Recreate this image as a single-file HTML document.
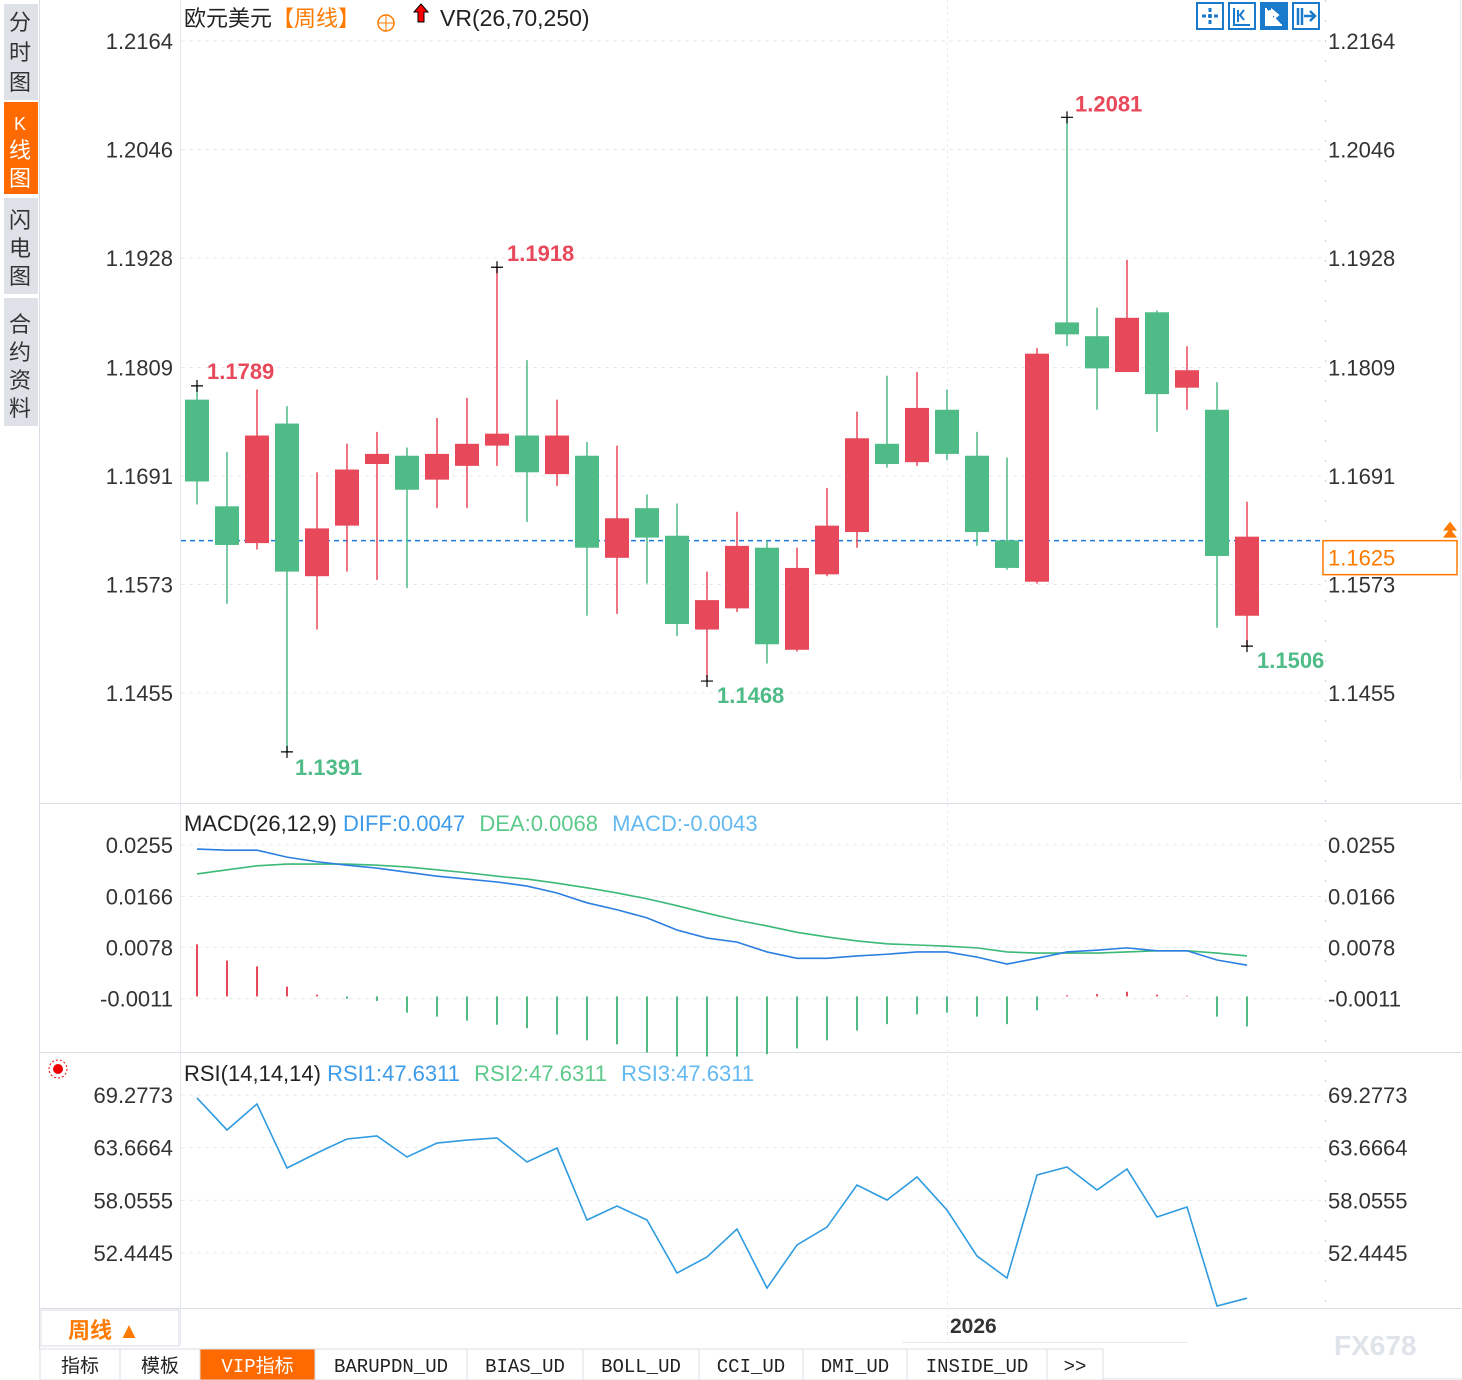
<!DOCTYPE html>
<html><head><meta charset="utf-8">
<style>
body{margin:0;background:#fff;width:1462px;height:1380px;overflow:hidden;font-family:"Liberation Sans","Noto Sans CJK SC",sans-serif;}
svg{position:absolute;left:0;top:0}
</style></head>
<body>
<svg id="chart" width="1462" height="1380" viewBox="0 0 1462 1380">
<g font-family="Liberation Sans, Noto Sans CJK SC, sans-serif" font-size="22" fill="#333" text-anchor="middle">
<rect x="4" y="4" width="34" height="96" fill="#dfe1e8"/>
<text x="20" y="30">分</text><text x="20" y="60">时</text><text x="20" y="90">图</text>
<rect x="4" y="102" width="34" height="92" fill="#ff6a00"/>
<text x="20" y="130" fill="#fff" font-size="18">K</text><text x="20" y="158" fill="#fff">线</text><text x="20" y="186" fill="#fff">图</text>
<rect x="4" y="198" width="34" height="96" fill="#dfe1e8"/>
<text x="20" y="228">闪</text><text x="20" y="256">电</text><text x="20" y="284">图</text>
<rect x="4" y="298" width="34" height="128" fill="#dfe1e8"/>
<text x="20" y="332">合</text><text x="20" y="360">约</text><text x="20" y="388">资</text><text x="20" y="416">料</text>
</g>
<line x1="39.5" y1="0" x2="39.5" y2="1350" stroke="#d8dde6"/>
<line x1="180.5" y1="0" x2="180.5" y2="1345" stroke="#e3e7ee"/>
<line x1="40" y1="803.5" x2="1462" y2="803.5" stroke="#d8dde6"/>
<line x1="40" y1="1052.5" x2="1462" y2="1052.5" stroke="#d8dde6"/>
<line x1="40" y1="1308.5" x2="1462" y2="1308.5" stroke="#d8dde6"/>
<line x1="1460.5" y1="0" x2="1460.5" y2="780" stroke="#e3e7ee"/>
<line x1="1325.5" y1="0" x2="1325.5" y2="1308" stroke="#c9d0db" stroke-dasharray="2,18"/>
<line x1="947.5" y1="0" x2="947.5" y2="1340" stroke="#e8ebf0" stroke-dasharray="3,3"/>
<text x="184" y="26" font-size="22" fill="#222">欧元美元<tspan fill="#ff7a00">【周线】</tspan></text>
<g><circle cx="386" cy="23" r="8" fill="none" stroke="#ff7a00" stroke-width="1.5"/><line x1="378" y1="23" x2="394" y2="23" stroke="#ff7a00"/><line x1="386" y1="15" x2="386" y2="31" stroke="#ff7a00"/></g>
<path d="M421 4 L428 12 L424 12 L424 22 L418 22 L418 12 L414 12 Z" fill="#f00" stroke="#000" stroke-width="1"/>
<text x="440" y="26" font-size="23" fill="#222">VR(26,70,250)</text>
<g>
<g><rect x="1197" y="3" width="26" height="26" fill="#fff" stroke="#1a7acc" stroke-width="2"/><path d="M1202 16h16M1210 8v16" stroke="#1a7acc" stroke-width="3" stroke-dasharray="4,2"/></g>
<g><rect x="1229" y="3" width="26" height="26" fill="#fff" stroke="#1a7acc" stroke-width="2"/><path d="M1234 8v17h16M1238 10v12M1244 10l-4 5 4 5" stroke="#1a7acc" stroke-width="2" fill="none"/></g>
<g><rect x="1261" y="3" width="26" height="26" fill="#1a7acc" stroke="#1a7acc" stroke-width="2"/><path d="M1266 8v17h16M1270 10v12M1272 10l6 5-6 5z" stroke="#fff" stroke-width="2" fill="#fff"/></g>
<g><rect x="1293" y="3" width="26" height="26" fill="#fff" stroke="#1a7acc" stroke-width="2"/><path d="M1298 8v17M1302 8v17M1304 16h10M1310 11l5 5-5 5" stroke="#1a7acc" stroke-width="2.5" fill="none"/></g>
</g>
<g id="price"></g>
<g id="macd"></g>
<g id="rsi"></g>
<text x="184" y="831" font-size="22" fill="#222">MACD(26,12,9) <tspan fill="#3d9be9">DIFF:0.0047</tspan>  <tspan fill="#5cc98a" dx="8">DEA:0.0068</tspan>  <tspan fill="#63b9f0" dx="8">MACD:-0.0043</tspan></text>
<text x="184" y="1081" font-size="22" fill="#222">RSI(14,14,14) <tspan fill="#3d9be9">RSI1:47.6311</tspan>  <tspan fill="#5cc98a" dx="8">RSI2:47.6311</tspan>  <tspan fill="#63b9f0" dx="8">RSI3:47.6311</tspan></text>
<g><circle cx="58" cy="1069" r="5" fill="#e00"/><circle cx="58" cy="1069" r="9" fill="none" stroke="#e00" stroke-dasharray="2,2"/></g>
<rect x="41" y="1310" width="138" height="36" fill="#fff" stroke="#d8dde6"/>
<text x="68" y="1338" font-size="22" font-weight="bold" fill="#ff7a00">周线 ▲</text>
<text x="950" y="1333" font-size="21" font-weight="bold" fill="#333">2026</text>
<line x1="902" y1="1342.5" x2="1188" y2="1342.5" stroke="#e6e9ee"/>
<text x="1334" y="1355" font-size="28" font-weight="bold" fill="#dfe3ea">FX678</text>
<g id="tabs" font-family="Liberation Mono, Noto Sans CJK SC, monospace" font-size="19"></g>
</svg>
<script>
const opens  =[1.1774,1.1658,1.1618,1.1748,1.1582,1.1637,1.1704,1.1713,1.1687,1.1702,1.1724,1.1735,1.1693,1.1713,1.1602,1.1656,1.1626,1.1524,1.1547,1.1613,1.1502,1.1584,1.1630,1.1726,1.1706,1.1763,1.1713,1.1621,1.1576,1.1858,1.1843,1.1804,1.1869,1.1787,1.1763,1.1539];
const closes =[1.1685,1.1616,1.1735,1.1587,1.1634,1.1698,1.1715,1.1676,1.1715,1.1726,1.1737,1.1695,1.1735,1.1613,1.1645,1.1624,1.1530,1.1556,1.1615,1.1508,1.1591,1.1637,1.1732,1.1704,1.1765,1.1715,1.1630,1.1591,1.1824,1.1845,1.1808,1.1863,1.1780,1.1806,1.1604,1.1625];
const highs  =[1.1789,1.1717,1.1785,1.1767,1.1695,1.1726,1.1739,1.1722,1.1754,1.1776,1.1918,1.1817,1.1774,1.1728,1.1724,1.1671,1.1661,1.1587,1.1652,1.1621,1.1613,1.1678,1.1761,1.1800,1.1804,1.1785,1.1739,1.1711,1.1830,1.2081,1.1874,1.1926,1.1871,1.1832,1.1793,1.1663];
const lows   =[1.1660,1.1552,1.1611,1.1391,1.1524,1.1587,1.1578,1.1569,1.1656,1.1656,1.1702,1.1641,1.1680,1.1539,1.1541,1.1574,1.1517,1.1468,1.1543,1.1487,1.1500,1.1582,1.1613,1.1700,1.1702,1.1708,1.1615,1.1589,1.1574,1.1832,1.1763,1.1804,1.1739,1.1763,1.1526,1.1506];
const priceTicks=["1.2164","1.2046","1.1928","1.1809","1.1691","1.1573","1.1455"];
const lastPrice=1.1625;
const diffVals=[.0248,.0246,.0246,.0234,.0226,.0220,.0215,.0208,.0201,.0196,.0191,.0184,.0172,.0155,.0143,.0129,.0108,.0094,.0087,.0070,.0059,.0059,.0063,.0066,.0070,.0070,.0061,.0049,.0059,.0070,.0073,.0077,.0072,.0072,.0056,.0047];
const deaVals=[.0205,.0212,.0219,.0222,.0222,.0222,.0220,.0217,.0212,.0207,.0201,.0196,.0189,.0181,.0172,.0162,.0150,.0137,.0125,.0115,.0104,.0096,.0089,.0084,.0082,.0080,.0077,.0070,.0068,.0068,.0068,.0070,.0072,.0072,.0068,.0063];
const histVals=[.0090,.0062,.0052,.0017,.0003,-.0004,-.0008,-.0028,-.0035,-.0042,-.0049,-.0055,-.0066,-.0076,-.0083,-.0097,-.0104,-.0104,-.0104,-.0100,-.0090,-.0076,-.0059,-.0048,-.0031,-.0028,-.0035,-.0048,-.0024,.0002,.0004,.0008,.0003,.0001,-.0035,-.0052];
const macdTicks=["0.0255","0.0166","0.0078","-0.0011"];
const rsiVals=[68.96,65.55,68.32,61.50,63.10,64.59,64.91,62.67,64.16,64.48,64.70,62.14,63.63,55.96,57.45,55.96,50.31,52.02,55.00,48.71,53.30,55.21,59.69,58.09,60.54,57.02,52.12,49.78,60.75,61.61,59.15,61.39,56.28,57.34,46.80,47.63];
const rsiTicks=["69.2773","63.6664","58.0555","52.4445"];
const tabLabels=["指标","模板","VIP指标","BARUPDN_UD","BIAS_UD","BOLL_UD","CCI_UD","DMI_UD","INSIDE_UD",">>"];

const NS="http://www.w3.org/2000/svg";
function mk(parent,tag,attrs){const e=document.createElementNS(NS,tag);for(const k in attrs)e.setAttribute(k,attrs[k]);parent.appendChild(e);return e;}
const RED="#e8495a",GREEN="#4fbb87";
const xAt=i=>197+30*i;
const yP=p=>41+(1.2164-p)*9196;
const yM=v=>845+(0.0255-v)*5780;
const yR=v=>1095+(69.2773-v)*9.386;
const FS=22;

const gp=document.getElementById('price');
priceTicks.forEach(t=>{const y=yP(+t);
 let l=mk(gp,'line',{x1:181,x2:1325,y1:y,y2:y,stroke:'#e6e9ee','stroke-dasharray':'4,4'});
 
 
 let a=mk(gp,'text',{x:173,y:y+8,'font-size':FS,fill:'#333','text-anchor':'end'});a.textContent=t;
 
 
 let b=mk(gp,'text',{x:1328,y:y+8,'font-size':FS,fill:'#333'});b.textContent=t;
 
 
});
const ly=yP(lastPrice)+4;
let ll=mk(gp,'line',{x1:181,x2:1325,y1:ly,y2:ly,stroke:'#1a7ae0','stroke-width':1.5,'stroke-dasharray':'5,4'});


let lb=mk(gp,'rect',{x:1323,y:ly,width:134,height:34,fill:'#fff',stroke:'#ff7a00','stroke-width':1.5});


let lt=mk(gp,'text',{x:1328,y:ly+25,'font-size':FS,fill:'#ff7a00'});lt.textContent=lastPrice.toFixed(4);


let tri=mk(gp,'path',{d:`M1443 ${ly-3} l7 -9 l7 9 z M1443 ${ly-10} l7 -9 l7 9 z`,fill:'#ff7a00'});


opens.forEach((o,i)=>{const c=closes[i],x=xAt(i),col=c>=o?RED:GREEN;
 const g=mk(gp,'g',{});
 
 
 mk(g,'line',{x1:x,x2:x,y1:yP(highs[i]),y2:yP(lows[i]),stroke:col,'stroke-width':1.5});
 const t=Math.min(yP(o),yP(c)),h=Math.max(1.5,Math.abs(yP(o)-yP(c)));
 mk(g,'rect',{x:x-12,y:t,width:24,height:h,fill:col});
});
function mark(i,p,txt,col,dx,dy){const x=xAt(i),y=yP(p);
 const g=mk(gp,'g',{});
 
 
 mk(g,'path',{d:`M${x-6} ${y}h12M${x} ${y-6}v12`,stroke:'#000','stroke-width':1.2});
 const t=mk(g,'text',{x:x+dx,y:y+dy,'font-size':22,'font-weight':'bold',fill:col});t.textContent=txt;}
let iMax=0,iMin=0;highs.forEach((h,i)=>{if(h>highs[iMax])iMax=i;});lows.forEach((l,i)=>{if(l<lows[iMin])iMin=i;});
mark(iMax,highs[iMax],highs[iMax].toFixed(4),RED,8,-6);
mark(iMin,lows[iMin],lows[iMin].toFixed(4),GREEN,8,23);
mark(0,highs[0],highs[0].toFixed(4),RED,10,-7);
mark(10,highs[10],highs[10].toFixed(4),RED,10,-6);
mark(17,lows[17],lows[17].toFixed(4),GREEN,10,22);
mark(35,lows[35],lows[35].toFixed(4),GREEN,10,22);

const gm=document.getElementById('macd');
macdTicks.forEach(t=>{const y=yM(+t);
 let l=mk(gm,'line',{x1:181,x2:1325,y1:y,y2:y,stroke:'#e6e9ee','stroke-dasharray':'4,4'});
 
 
 let a=mk(gm,'text',{x:173,y:y+8,'font-size':FS,fill:'#333','text-anchor':'end'});a.textContent=t;
 
 
 let b=mk(gm,'text',{x:1328,y:y+8,'font-size':FS,fill:'#333'});b.textContent=t;
 
 
});
histVals.forEach((v,i)=>{const x=xAt(i);
 let l=mk(gm,'line',{x1:x,x2:x,y1:yM(0)+4,y2:yM(v)+4,stroke:v>=0?RED:GREEN,'stroke-width':2});
 
 
});
function poly(g,vals,fy,col,name){const p=mk(g,'polyline',{points:vals.map((v,i)=>xAt(i)+','+fy(v)).join(' '),fill:'none',stroke:col,'stroke-width':1.6});
 
 }
poly(gm,deaVals,yM,'#3cb878','dea-line');
poly(gm,diffVals,yM,'#2b7fe0','diff-line');

const gr=document.getElementById('rsi');
rsiTicks.forEach(t=>{const y=yR(+t);
 let l=mk(gr,'line',{x1:181,x2:1325,y1:y,y2:y,stroke:'#e6e9ee','stroke-dasharray':'4,4'});
 
 
 let a=mk(gr,'text',{x:173,y:y+8,'font-size':FS,fill:'#333','text-anchor':'end'});a.textContent=t;
 
 
 let b=mk(gr,'text',{x:1328,y:y+8,'font-size':FS,fill:'#333'});b.textContent=t;
 
 
});
poly(gr,rsiVals,yR,'#2f9be0','rsi-line');

const tg=document.getElementById('tabs');
const tabW=[80,80,115,152,116,116,104,104,140,56];
let tx=40;
tabLabels.forEach((lab,i)=>{const w=tabW[i];const act=i===2;
 const g=mk(tg,'g',{});
 
 
 mk(g,'rect',{x:tx,y:1349,width:w,height:31,fill:act?'#ff6a00':'#fff',stroke:'#d8dde6'});
 const t=mk(g,'text',{x:tx+w/2,y:1372,'text-anchor':'middle',fill:act?'#fff':'#222'});t.textContent=lab;
 tx+=w;});
let tl=mk(tg,'line',{x1:tx,x2:1462,y1:1379,y2:1379,stroke:'#d8dde6'});


</script>
</body></html>
